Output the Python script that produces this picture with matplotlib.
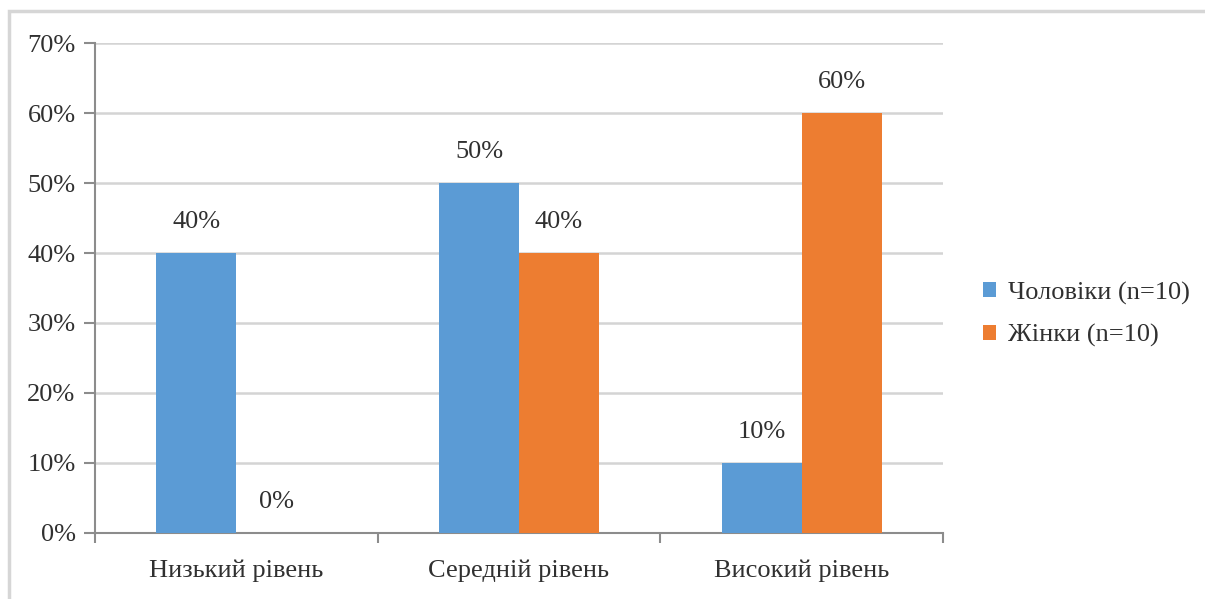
import numpy as np
import matplotlib.pyplot as plt
from matplotlib.patches import Rectangle

plt.rcParams['font.family'] = ['Liberation Serif', 'DejaVu Serif']

categories = ["Низький рівень", "Середній рівень", "Високий рівень"]
men = [40, 50, 10]
women = [0, 40, 60]
series_names = ["Чоловіки (n=10)", "Жінки (n=10)"]
yticks = [0, 10, 20, 30, 40, 50, 60, 70]

blue = "#5B9BD5"
orange = "#ED7D31"
grid_col = "#d4d4d4"
axis_col = "#8c8c8c"
text_col = "#303030"
fs = 19

fig = plt.figure(figsize=(12.05, 5.99), dpi=100)
ax = fig.add_axes([0.0788, 0.1102, 0.7037, 0.818])

# light frame around the chart area
fig.patches.append(Rectangle((9 / 1205, -0.1), 1.2, 1.1 - 12 / 599 + 0.001,
                             transform=fig.transFigure, fill=False,
                             edgecolor="#d6d6d6", linewidth=2.5, clip_on=False))

x = np.arange(len(categories))
w = 0.283
b1 = ax.bar(x - w / 2, men, w, color=blue, label=series_names[0], zorder=3)
b2 = ax.bar(x + w / 2, women, w, color=orange, label=series_names[1], zorder=3)

for bars, vals in ((b1, men), (b2, women)):
    for r, v in zip(bars, vals):
        ax.annotate(f"{v}%", (r.get_x() + r.get_width() / 2, v),
                    xytext=(0, 22), textcoords="offset points",
                    ha="center", va="center", fontsize=fs, color=text_col)

ax.set_xlim(-0.5, 2.5)
ax.set_ylim(0, 70)
ax.set_yticks(yticks)
ax.set_yticklabels([f"{t}%" for t in yticks])
ax.yaxis.grid(True, color=grid_col, linewidth=1.8, zorder=0)
ax.set_axisbelow(True)

ax.set_xticks(x)
ax.set_xticklabels(categories)
ax.set_xticks([-0.5, 0.5, 1.5, 2.5], minor=True)
ax.tick_params(axis="x", which="major", length=0, pad=19, labelsize=fs, labelcolor=text_col)
ax.tick_params(axis="x", which="minor", length=7, width=1.5, color=axis_col, direction="out")
ax.tick_params(axis="y", length=8, width=1.5, color=axis_col, pad=6, labelsize=fs, labelcolor=text_col)

for s in ("top", "right"):
    ax.spines[s].set_visible(False)
for s in ("left", "bottom"):
    ax.spines[s].set_color(axis_col)
    ax.spines[s].set_linewidth(1.5)

leg = fig.legend(loc="center left", bbox_to_anchor=(0.805, 0.475), frameon=False,
                 fontsize=fs, handlelength=0.5, handleheight=0.5, handletextpad=0.45,
                 labelspacing=0.75, borderpad=0)
for t in leg.get_texts():
    t.set_color(text_col)

fig.savefig("out.png", dpi=100)
